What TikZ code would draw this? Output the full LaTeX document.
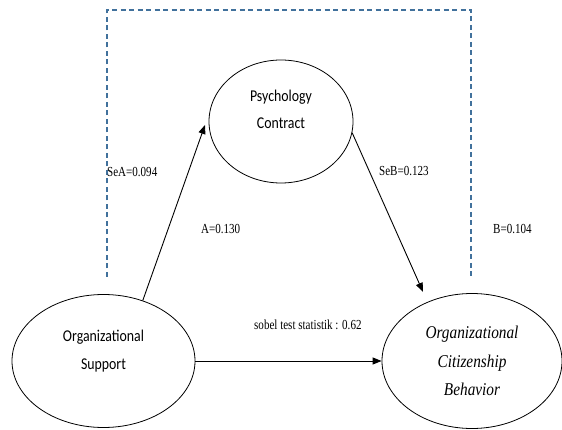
\documentclass[tikz,border=0pt]{standalone}
\usepackage{fontspec}
\setmainfont{Liberation Serif}
\newfontfamily\calfont[FakeStretch=0.84]{Carlito}
\newfontfamily\labfont[FakeStretch=0.8]{Liberation Serif}
\newfontfamily\ocbfont[FakeStretch=0.85]{Liberation Serif}
\usetikzlibrary{shapes.geometric,arrows.meta}
\definecolor{dashblue}{RGB}{65,113,156}

\begin{document}
\begin{tikzpicture}[x=1pt,y=-1pt,
    var/.style={draw,ellipse,line width=0.8pt,inner sep=0pt,align=center},
    lab/.style={anchor=west,inner sep=0pt,font=\labfont\fontsize{13.8}{15}\selectfont},
    causal/.style={line width=0.9pt,-{Triangle[length=9pt,width=7pt]}}]
  \useasboundingbox (0,0) rectangle (562,430);
  % indirect path frame
  \draw[dashblue,line width=1.1pt,dash pattern=on 5pt off 3.5pt] (107,277) -- (107,10) -- (471,10) -- (471,278);
  \node[var,minimum width=144pt,minimum height=123pt,text depth=24pt,
        font=\calfont\fontsize{16.5}{27}\selectfont] (pc) at (281,121.5) {Psychology\\Contract};
  \node[var,minimum width=183pt,minimum height=133pt,text depth=22pt,
        font=\calfont\fontsize{16.5}{28}\selectfont] (os) at (103.5,361) {Organizational\\Support};
  \node[var,minimum width=180pt,minimum height=135pt,
        font=\ocbfont\itshape\fontsize{18}{28.5}\selectfont] (ocb) at (472,361) {Organizational\\Citizenship\\Behavior};
  \draw[causal,shorten >=13pt] (os.57) -- (pc.173);
  \draw[causal,shorten >=11pt] (pc.-9) -- (ocb.127);
  \draw[causal] (os.east) -- (ocb.west);
  \node[lab] (sea) at (107,172) {SeA=0.094};
  \node[lab] (seb) at (379,171) {SeB=0.123};
  \node[lab] (a) at (201,229) {A=0.130};
  \node[lab] (b) at (493,229) {B=0.104};
  \node[lab] (sobel) at (254,325) {sobel test statistik : 0.62};
\end{tikzpicture}
\end{document}
